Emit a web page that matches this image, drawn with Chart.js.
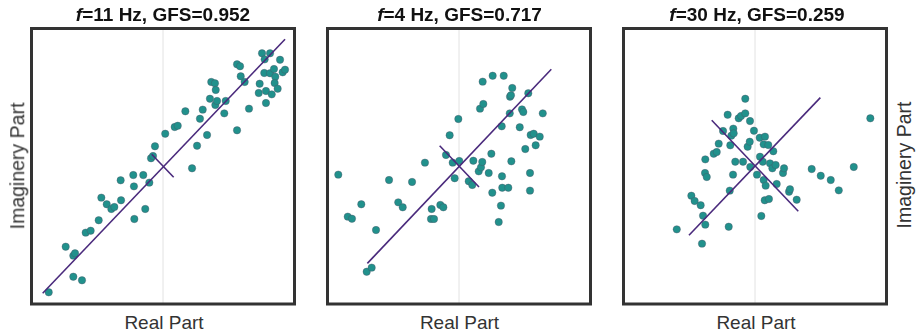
<!DOCTYPE html>
<html>
<head>
<meta charset="utf-8">
<script src="https://cdn.jsdelivr.net/npm/chart.js@4.4.1/dist/chart.umd.min.js"></script>
<style>
  html, body { margin: 0; padding: 0; background: #fff; }
  #wrap { position: relative; width: 916px; height: 336px; overflow: hidden; }
  canvas { position: absolute; }
  .txt { position: absolute; white-space: nowrap; line-height: 1;
         font-family: "Liberation Sans", Arial, sans-serif; transform: translate(-50%, -50%); }
  .ttl { font-size: 19px; font-weight: bold; color: #111; }
  .xl { font-size: 19px; color: #333; }
  .yl { font-size: 19.5px; color: #333; transform: translate(-50%, -50%) rotate(-90deg); }
</style>
</head>
<body>
<div id="wrap"></div>
<script>
// Frequencies and goodness-of-fit scores shown in the panel titles
const freqs = [11, 4, 30];
const gfsValues = ['0.952', '0.717', '0.259'];

// Complex samples (real / imaginary part), normalised to [-1, 1]
const re11 = [-0.869,-0.740,-0.682,-0.669,-0.682,-0.616,-0.588,-0.550,-0.489,-0.469,-0.428,-0.393,-0.370,-0.319,-0.322,-0.226,-0.221,-0.218,-0.150,-0.135,-0.104,-0.091,-0.076,-0.061,0.017,0.089,0.112,0.170,0.221,0.259,0.281,0.302,0.335,0.357,0.367,0.395,0.401,0.398,0.411,0.466,0.477,0.563,0.586,0.591,0.621,0.563,0.654,0.728,0.735,0.753,0.773,0.814,0.770,0.783,0.783,0.814,0.827,0.844,0.854,0.849,0.872,0.890,0.910,0.928];
const im11 = [-0.915,-0.584,-0.649,-0.632,-0.802,-0.828,-0.482,-0.468,-0.392,-0.228,-0.276,-0.310,-0.296,-0.247,-0.102,-0.064,-0.146,-0.383,-0.064,-0.310,-0.119,0.058,0.074,0.145,0.236,0.285,0.294,0.399,-0.015,0.149,0.345,0.411,0.227,0.490,0.612,0.602,0.554,0.445,0.474,0.384,0.474,0.740,0.726,0.653,0.612,0.261,0.418,0.532,0.599,0.820,0.776,0.820,0.677,0.546,0.459,0.675,0.522,0.706,0.650,0.604,0.563,0.773,0.682,0.701];

const re4 = [-0.918,-0.846,-0.814,-0.743,-0.631,-0.702,-0.664,-0.532,-0.462,-0.428,-0.357,-0.259,-0.208,-0.213,-0.190,-0.142,-0.119,-0.099,-0.071,-0.048,-0.033,-0.005,0.002,0.074,0.101,0.109,0.150,0.167,0.177,0.226,0.246,0.253,0.160,0.185,0.180,0.256,0.340,0.302,0.319,0.327,0.329,0.325,0.375,0.386,0.388,0.395,0.405,0.398,0.462,0.479,0.489,0.504,0.527,0.540,0.540,0.545,0.568,0.583,0.614,0.637];
const im4 = [-0.061,-0.366,-0.381,-0.276,-0.463,-0.766,-0.736,-0.100,-0.262,-0.298,-0.114,0.026,-0.310,-0.383,-0.383,-0.281,-0.298,0.082,0.225,0.026,-0.087,0.343,0.038,-0.109,-0.136,0.040,-0.037,-0.008,0.031,-0.049,0.091,-0.192,0.418,0.452,0.614,0.657,0.657,-0.405,-0.286,-0.073,-0.156,0.290,-0.156,0.384,0.505,0.515,0.568,0.036,0.283,0.413,0.394,0.125,0.530,-0.049,-0.177,0.227,0.236,0.152,0.215,0.384];

const re30 = [-0.595,-0.403,-0.484,-0.459,-0.413,-0.395,-0.378,-0.380,-0.367,-0.378,-0.314,-0.291,-0.276,-0.243,-0.208,-0.200,-0.192,-0.188,-0.180,-0.167,-0.165,-0.162,-0.150,-0.124,-0.106,-0.091,-0.074,-0.074,-0.056,-0.040,-0.038,-0.036,-0.008,0.015,0.036,0.038,0.048,0.059,0.066,0.076,0.066,0.081,0.074,0.106,0.101,0.114,0.132,0.139,0.157,0.165,0.213,0.221,0.259,0.266,0.317,0.431,0.500,0.576,0.637,0.751,0.877];
const im30 = [-0.458,-0.562,-0.214,-0.252,-0.283,-0.359,-0.424,-0.049,-0.078,0.050,0.091,0.103,0.164,0.256,0.374,-0.439,-0.177,0.152,0.222,-0.061,0.273,0.239,0.033,0.348,0.365,0.033,0.490,0.384,0.142,0.178,0.328,-0.005,0.258,-0.061,0.207,0.069,-0.361,0.033,0.159,0.215,-0.100,-0.141,-0.247,-0.238,0.154,0.021,-0.015,0.109,0.009,-0.129,-0.049,-0.015,-0.185,-0.167,-0.243,-0.020,-0.069,-0.100,-0.175,-0.005,0.348];

// Principal-axis segments (major and minor) through the centroid
const majRe11 = [-0.915, 0.928], majIm11 = [-0.922, 0.922];
const minRe11 = [-0.086, 0.081], minIm11 = [0.087, -0.080];
const majRe4 = [-0.697, 0.702], majIm4 = [-0.705, 0.704];
const minRe4 = [-0.147, 0.152], minIm4 = [0.149, -0.151];
const majRe30 = [-0.502, 0.497], majIm30 = [-0.501, 0.498];
const minRe30 = [-0.329, 0.329], minIm30 = [0.334, -0.327];

const panels = [
  { re: re11, im: im11, majRe: majRe11, majIm: majIm11, minRe: minRe11, minIm: minIm11 },
  { re: re4,  im: im4,  majRe: majRe4,  majIm: majIm4,  minRe: minRe4,  minIm: minIm4 },
  { re: re30, im: im30, majRe: majRe30, majIm: majIm30, minRe: minRe30, minIm: minIm30 }
];

const pts = (xs, ys) => xs.map((x, i) => ({ x: x, y: ys[i] }));

// Layout of the three panels
const canvasLefts = [26, 322, 618];
const canvasTop = 22, canvasW = 274, canvasH = 288;
const pad = { left: 5.5, right: 5.5, top: 6.5, bottom: 6 };
const titleX = [163, 459.5, 757];
const xLabelX = [164, 459.5, 756];

const frame = {
  id: 'frame',
  afterDraw(chart) {
    const a = chart.chartArea, c = chart.ctx;
    c.save();
    c.strokeStyle = '#333';
    c.lineWidth = 3;
    c.strokeRect(a.left, a.top, a.right - a.left, a.bottom - a.top);
    c.restore();
  }
};

const wrap = document.getElementById('wrap');
const PURPLE = '#4a2a7c';

panels.forEach((p, k) => {
  const cv = document.createElement('canvas');
  cv.width = canvasW; cv.height = canvasH;
  cv.style.left = canvasLefts[k] + 'px';
  cv.style.top = canvasTop + 'px';
  cv.style.width = canvasW + 'px';
  cv.style.height = canvasH + 'px';
  wrap.appendChild(cv);

  new Chart(cv, {
    type: 'scatter',
    data: {
      datasets: [
        { data: [{ x: 0, y: -1 }, { x: 0, y: 1 }], showLine: true, pointRadius: 0,
          borderColor: '#e2e2e2', borderWidth: 1, order: 4 },
        { data: pts(p.re, p.im), pointRadius: 3.7, pointBackgroundColor: '#21918c',
          pointBorderColor: 'rgba(75,80,100,0.55)', pointBorderWidth: 0.7, order: 3 },
        { data: pts(p.majRe, p.majIm), showLine: true, pointRadius: 0,
          borderColor: PURPLE, borderWidth: 1.6, order: 2 },
        { data: pts(p.minRe, p.minIm), showLine: true, pointRadius: 0,
          borderColor: PURPLE, borderWidth: 1.6, order: 1 }
      ]
    },
    options: {
      responsive: false,
      animation: false,
      devicePixelRatio: 1,
      layout: { padding: pad },
      scales: {
        x: { type: 'linear', min: -1, max: 1, display: false },
        y: { type: 'linear', min: -1, max: 1, display: false }
      },
      plugins: { legend: { display: false }, tooltip: { enabled: false } }
    },
    plugins: [frame]
  });

  const t = document.createElement('div');
  t.className = 'txt ttl';
  t.style.left = titleX[k] + 'px';
  t.style.top = '14px';
  t.innerHTML = '<i>f</i>=' + freqs[k] + ' Hz, GFS=' + gfsValues[k];
  wrap.appendChild(t);

  const xl = document.createElement('div');
  xl.className = 'txt xl';
  xl.style.left = xLabelX[k] + 'px';
  xl.style.top = '322px';
  xl.textContent = 'Real Part';
  wrap.appendChild(xl);
});

// Imaginary-axis labels on the outer sides
[[18, 166], [904.5, 165]].forEach(([x, y]) => {
  const yl = document.createElement('div');
  yl.className = 'txt yl';
  yl.style.left = x + 'px';
  yl.style.top = y + 'px';
  yl.textContent = 'Imaginery Part';
  wrap.appendChild(yl);
});
</script>
</body>
</html>
